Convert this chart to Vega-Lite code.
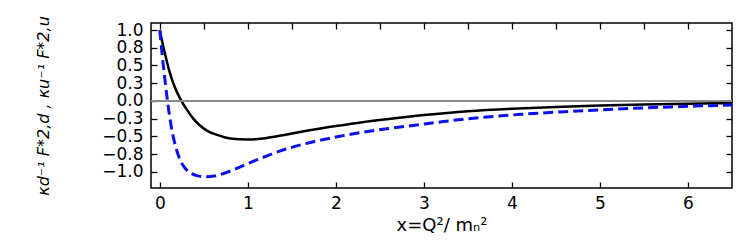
{
  "$schema": "https://vega.github.io/schema/vega-lite/v6.json",
  "width": 581,
  "height": 165,
  "autosize": "none",
  "padding": {"left": 151, "top": 23, "right": 7, "bottom": 54},
  "config": {
    "view": {"stroke": "black", "strokeWidth": 1.5},
    "axis": {"grid": false,
      "labelFont": "DejaVu Sans", "labelFontSize": 17, "labelColor": "black",
      "titleFont": "DejaVu Sans", "titleFontSize": 16, "titleFontWeight": "normal", "titleColor": "black"}
  },
  "data": {"values": [
    {"s": "d", "x": 0, "y": 1.0}, {"s": "d", "x": 0.03, "y": 0.82}, {"s": "d", "x": 0.06, "y": 0.66},
    {"s": "d", "x": 0.1, "y": 0.46}, {"s": "d", "x": 0.15, "y": 0.26}, {"s": "d", "x": 0.2, "y": 0.11},
    {"s": "d", "x": 0.25, "y": -0.01}, {"s": "d", "x": 0.3, "y": -0.11}, {"s": "d", "x": 0.38, "y": -0.25},
    {"s": "d", "x": 0.45, "y": -0.34}, {"s": "d", "x": 0.55, "y": -0.43}, {"s": "d", "x": 0.65, "y": -0.48},
    {"s": "d", "x": 0.8, "y": -0.53}, {"s": "d", "x": 1.0, "y": -0.546}, {"s": "d", "x": 1.2, "y": -0.527},
    {"s": "d", "x": 1.4, "y": -0.485}, {"s": "d", "x": 1.7, "y": -0.415}, {"s": "d", "x": 2.0, "y": -0.355},
    {"s": "d", "x": 2.3, "y": -0.3}, {"s": "d", "x": 2.6, "y": -0.255}, {"s": "d", "x": 3.0, "y": -0.2},
    {"s": "d", "x": 3.5, "y": -0.145}, {"s": "d", "x": 4.0, "y": -0.11}, {"s": "d", "x": 4.5, "y": -0.085},
    {"s": "d", "x": 5.0, "y": -0.066}, {"s": "d", "x": 5.5, "y": -0.051}, {"s": "d", "x": 6.0, "y": -0.04},
    {"s": "d", "x": 6.5, "y": -0.032},
    {"s": "u", "x": 0, "y": 1.0}, {"s": "u", "x": 0.02, "y": 0.74}, {"s": "u", "x": 0.04, "y": 0.5},
    {"s": "u", "x": 0.06, "y": 0.28}, {"s": "u", "x": 0.085, "y": 0.02}, {"s": "u", "x": 0.1, "y": -0.12},
    {"s": "u", "x": 0.13, "y": -0.36}, {"s": "u", "x": 0.17, "y": -0.6}, {"s": "u", "x": 0.22, "y": -0.8},
    {"s": "u", "x": 0.28, "y": -0.94}, {"s": "u", "x": 0.34, "y": -1.01}, {"s": "u", "x": 0.42, "y": -1.055},
    {"s": "u", "x": 0.52, "y": -1.07}, {"s": "u", "x": 0.62, "y": -1.06}, {"s": "u", "x": 0.8, "y": -0.99},
    {"s": "u", "x": 1.02, "y": -0.875}, {"s": "u", "x": 1.36, "y": -0.71}, {"s": "u", "x": 1.7, "y": -0.59},
    {"s": "u", "x": 2.0, "y": -0.51}, {"s": "u", "x": 2.27, "y": -0.45}, {"s": "u", "x": 2.6, "y": -0.39},
    {"s": "u", "x": 2.92, "y": -0.34}, {"s": "u", "x": 3.2, "y": -0.295}, {"s": "u", "x": 3.64, "y": -0.235},
    {"s": "u", "x": 4.1, "y": -0.19}, {"s": "u", "x": 4.6, "y": -0.152}, {"s": "u", "x": 5.2, "y": -0.115},
    {"s": "u", "x": 5.8, "y": -0.085}, {"s": "u", "x": 6.5, "y": -0.058}
  ]},
  "resolve": {"axis": {"x": "independent", "y": "independent"}},
  "layer": [
    {
      "transform": [{"filter": "datum.s === 'd'"}],
      "mark": {"type": "line", "color": "black", "strokeWidth": 2.5, "interpolate": "monotone"},
      "encoding": {
        "x": {"field": "x", "type": "quantitative", "scale": {"domain": [-0.1, 6.5], "nice": false, "zero": false},
          "axis": {"orient": "bottom", "title": "x=Q²/ mₙ²", "titleFontSize": 18, "values": [0, 0.5, 1, 1.5, 2, 2.5, 3, 3.5, 4, 4.5, 5, 5.5, 6],
            "domain": false, "offset": -6, "tickColor": "black", "tickSize": 6, "tickWidth": 1.3, "format": "d",
            "labelOpacity": {"condition": {"test": "datum.value % 1 !== 0", "value": 0}, "value": 1},
            "labelPadding": 7, "titlePadding": 5, "labelFlush": false}},
        "y": {"field": "y", "type": "quantitative", "scale": {"domain": [-1.23, 1.1], "nice": false, "zero": false},
          "axis": {"orient": "left", "title": "κd⁻¹ F*2,d , κu⁻¹ F*2,u", "titleFontStyle": "italic", "values": [-1, -0.75, -0.5, -0.25, 0, 0.25, 0.5, 0.75, 1],
            "domain": false, "offset": -6, "tickColor": "black", "tickSize": 6, "tickWidth": 1.3, "format": ".1f",
            "labelOpacity": {"condition": {"test": "abs(datum.value * 2 - round(datum.value * 2)) > 1e-6", "value": 0}, "value": 1},
            "labelPadding": 8, "titlePadding": 50, "labelFlush": false}}
      }
    },
    {
      "transform": [{"filter": "datum.s === 'u'"}],
      "mark": {"type": "line", "color": "#0a10f0", "strokeWidth": 3, "strokeDash": [10, 5], "interpolate": "monotone"},
      "encoding": {
        "x": {"field": "x", "type": "quantitative",
          "axis": {"orient": "top", "title": null, "labelOpacity": 0, "domain": false, "offset": -6, "tickColor": "black", "tickSize": 6, "tickWidth": 1.3, "values": [0, 0.5, 1, 1.5, 2, 2.5, 3, 3.5, 4, 4.5, 5, 5.5, 6]}},
        "y": {"field": "y", "type": "quantitative",
          "axis": {"orient": "right", "title": null, "labelOpacity": 0, "domain": false, "offset": -6, "tickColor": "black", "tickSize": 6, "tickWidth": 1.3, "values": [-1, -0.75, -0.5, -0.25, 0, 0.25, 0.5, 0.75, 1]}}
      }
    },
    {
      "mark": {"type": "rule", "color": "#8a8a8a", "strokeWidth": 1},
      "encoding": {"y": {"datum": 0, "type": "quantitative", "axis": null}}
    }
  ]
}
